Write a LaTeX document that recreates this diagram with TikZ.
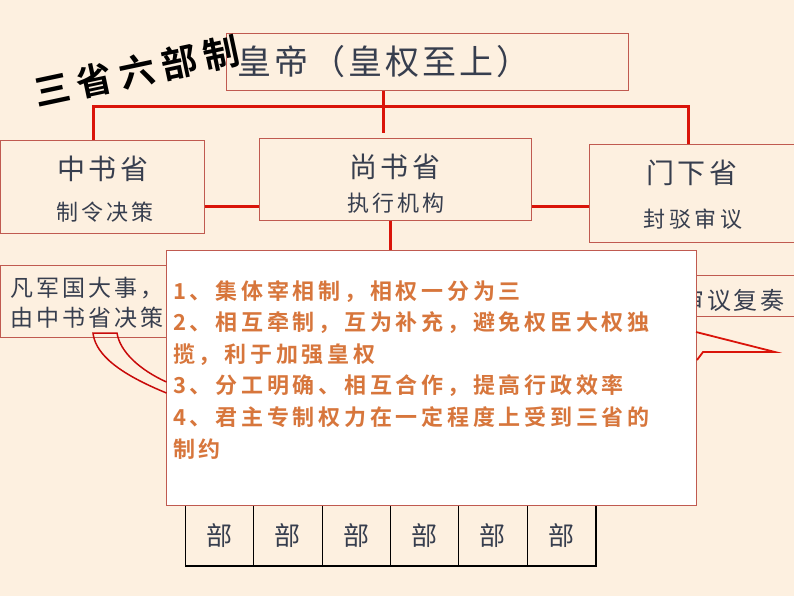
\documentclass[tikz,border=0pt]{standalone}
\usepackage{fontspec}
\newfontfamily\cjk{Noto Sans CJK SC}
\newfontfamily\cjkb{Noto Sans CJK SC Bold}
\definecolor{bgc}{RGB}{253,240,224}
\definecolor{boxc}{RGB}{192,90,80}
\definecolor{redl}{RGB}{218,20,10}
\definecolor{txt}{RGB}{55,62,78}
\definecolor{orng}{RGB}{215,118,60}
\definecolor{tailc}{RGB}{200,10,10}
\newcommand\tsp[2]{\fontsize{#1}{#1}\selectfont\addfontfeature{LetterSpace=#2}}
\tikzset{
  box/.style={draw=boxc, line width=0.8pt, fill=bgc, inner sep=0pt, anchor=north west},
  redline/.style={draw=redl, line width=3pt},
  lbl/.style={text=txt, inner sep=0pt},
  bucell/.style={draw=black, line width=0.8pt, fill=bgc, inner sep=0pt, anchor=north west,
    minimum width=68.33pt, minimum height=60pt, text=txt, font={\cjk\tsp{26}{0}}},
}
\begin{document}
\begin{tikzpicture}[x=1pt,y=-1pt]
\fill[bgc] (0,0) rectangle (794,596);
\useasboundingbox (0,0) rectangle (794,596);

% top box
\node[box, minimum width=402pt, minimum height=57pt] (emp) at (226,33) {};
\node[lbl, font={\cjk\tsp{34}{9}}] (empt) at (384,62) {皇帝（皇权至上）};

% title
\node[rotate=12, inner sep=0pt, font={\cjkb\tsp{36}{20}}] (title) at (137,71) {三省六部制};

% three departments
\node[box, minimum width=204pt, minimum height=93pt] (zsh) at (0,140) {};
\node[lbl, font={\cjk\tsp{28}{11}}] (zsht) at (103,169) {中书省};
\node[lbl, font={\cjk\tsp{22}{14}}] (zshs) at (105,212) {制令决策};

\node[box, minimum width=272pt, minimum height=82pt] (ssh) at (259,138) {};
\node[lbl, font={\cjk\tsp{28}{12}}] (ssht) at (395,167) {尚书省};
\node[lbl, font={\cjk\tsp{22}{15}}] (sshs) at (396,203) {执行机构};

\node[box, minimum width=206pt, minimum height=98pt] (mxs) at (589,144) {};
\node[lbl, font={\cjk\tsp{28}{12}}] (mxst) at (692,173) {门下省};
\node[lbl, font={\cjk\tsp{22}{16}}] (mxss) at (693,219) {封驳审议};

% lower boxes
\node[box, minimum width=180pt, minimum height=72pt] (fj) at (0,265) {};
\node[lbl, anchor=west, align=left, font={\cjk\tsp{23}{13}}] (fjt) at (10,303)
  {凡军国大事，\\[7pt]由中书省决策};

\node[box, minimum width=170pt, minimum height=41pt] (sy) at (630,275) {};
\node[lbl, anchor=east, font={\cjk\tsp{24}{12}}] (syt) at (785,300) {审议复奏};

% six ministries
\node[bucell] (b1) at (185.00,505) {部};
\node[bucell] (b2) at (253.33,505) {部};
\node[bucell] (b3) at (321.67,505) {部};
\node[bucell] (b4) at (390.00,505) {部};
\node[bucell] (b5) at (458.33,505) {部};
\node[bucell] (b6) at (526.67,505) {部};
\draw[line width=2.2pt, black] (b1.south west) -- (b6.south east) -- (b6.north east);

% connectors
\coordinate (hl) at (93,107);
\coordinate (hr) at (688,107);
\coordinate (ev) at (383,133);
\coordinate (m1) at (0,206);
\coordinate (sv) at (390,0);
\draw[redline] (hl |- zsh.north) -- (hl) -- (hr) -- (hr |- mxs.north);
\draw[redline] (ev |- emp.south) -- (ev);
\draw[redline] (zsh.east |- m1) -- (ssh.west |- m1);
\draw[redline] (ssh.east |- m1) -- (mxs.west |- m1);

% popup
\node[draw=boxc, line width=1pt, fill=white, inner sep=0pt, anchor=north west,
      minimum width=530pt, minimum height=255pt] (pop) at (166,250) {};
\draw[redline] (sv |- ssh.south) -- (sv |- pop.north);
\node[anchor=north west, align=left, inner sep=0pt, text=orng,
      font={\cjkb\fontsize{22}{31.6}\selectfont\addfontfeature{LetterSpace=17}}] (popt) at (173,280)
  {1、集体宰相制，相权一分为三\\
   2、相互牵制，互为补充，避免权臣大权独\\
   揽，利于加强皇权\\
   3、分工明确、相互合作，提高行政效率\\
   4、君主专制权力在一定程度上受到三省的\\
   制约};

% callout tails
\coordinate (t1) at (93,333);
\coordinate (t2) at (117,333);
\coordinate (t3) at (166.5,393);
\coordinate (t4) at (166.5,382);
\draw[tailc, line width=1.5pt] (t3) .. controls (110,370) and (95,350) .. (t1) -- (t2)
   .. controls (120,352) and (140,370) .. (t4);
\coordinate (r1) at (696,332);
\coordinate (r2) at (775,352);
\coordinate (r3) at (703,352);
\coordinate (r4) at (697,360);
\draw[redl, line width=1.8pt] (r1) -- (r2) -- (r3) -- (r4);
\end{tikzpicture}
\end{document}
